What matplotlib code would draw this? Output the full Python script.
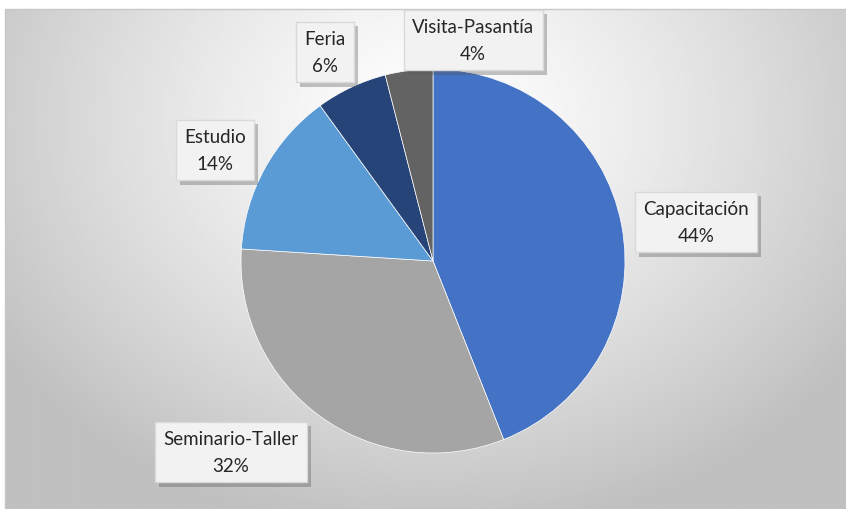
import numpy as np
import matplotlib
matplotlib.use("Agg")
import matplotlib.pyplot as plt
from matplotlib import patheffects as pe
from matplotlib.patches import Rectangle

# data
categories = ["Capacitación", "Seminario-Taller", "Estudio", "Feria", "Visita-Pasantía"]
shares = [44, 32, 14, 6, 4]
colors = ["#4472C4", "#A5A5A5", "#5B9BD5", "#264478", "#636363"]
# label box centres (pixel coords, y from top)
label_pos = [(696, 223), (231, 453), (215, 151), (325, 53), (473, 41)]

W, H = 846, 510
plt.rcParams["font.family"] = ["Lato", "DejaVu Sans"]

fig = plt.figure(figsize=(W / 100, H / 100), dpi=100)
fig.patch.set_facecolor("white")
ax = fig.add_axes([0, 0, 1, 1])

# radial gradient background of the chart area
x0, x1, y0, y1 = 5, W, 0, H - 10
gx, gy = np.meshgrid(np.linspace(x0, x1, 400), np.linspace(y0, y1, 250))
cx, cy = 430, H - 120
r = np.sqrt(((gx - cx) / 520) ** 2 + ((gy - cy) / 420) ** 2)
r = np.clip(r, 0, 1)
val = 1.0 - 0.25 * r ** 1.3
ax.imshow(val, extent=(x0, x1, y0, y1), origin="lower", cmap="gray",
          vmin=0, vmax=1, aspect="auto", zorder=0, interpolation="bilinear")
ax.add_patch(Rectangle((x0, y0), x1 - x0, y1 - y0, fill=False,
                       edgecolor="#c8c8c8", linewidth=1, zorder=1))

centre = (433, H - 262)
wedges, _ = ax.pie(shares, colors=colors, startangle=90, counterclock=False,
                   center=centre, radius=192, frame=True,
                   wedgeprops=dict(edgecolor="white", linewidth=0.5))
for w in wedges:
    w.set_zorder(2)
ax.set_xlim(0, W)
ax.set_ylim(0, H)
ax.set_aspect("auto")
ax.axis("off")

for cat, pct, (px, py) in zip(categories, shares, label_pos):
    t = ax.text(px, H - py, f"{cat}\n{pct}%", ha="center", va="center",
                fontsize=13.5, color="#262626", linespacing=1.7, zorder=5,
                bbox=dict(boxstyle="square,pad=0.45", facecolor="#F2F2F2",
                          edgecolor="#D9D9D9", linewidth=1))
    t.get_bbox_patch().set_path_effects([
        pe.SimplePatchShadow(offset=(3, -3), shadow_rgbFace="#555555", alpha=0.35),
        pe.Normal()])

fig.savefig("out.png", dpi=100)
